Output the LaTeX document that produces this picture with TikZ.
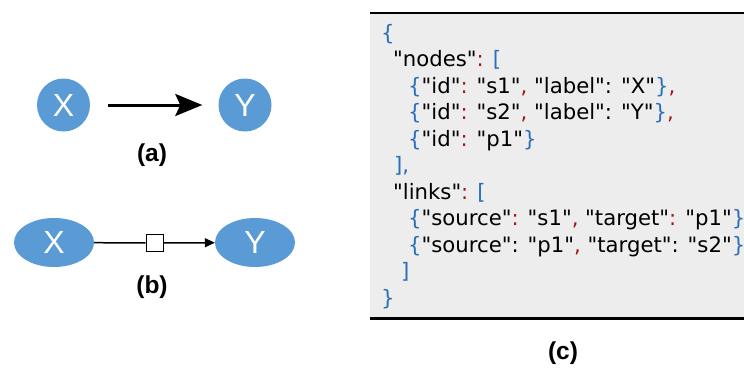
\documentclass[tikz,border=0pt]{standalone}
\usepackage{fontspec}
\setmainfont{Liberation Sans}
\newfontfamily\jsonfont{DejaVu Sans}
\usetikzlibrary{arrows.meta,shapes.geometric}
\definecolor{nodeblue}{HTML}{5B9BD5}
\definecolor{jb}{HTML}{2A6FB8}
\definecolor{jr}{HTML}{A31515}
\definecolor{boxgray}{HTML}{EDEDED}
\begin{document}
\begin{tikzpicture}[x=1pt,y=-1pt,
  circ/.style={circle, fill=nodeblue, minimum size=53pt, inner sep=0pt, text=white, font=\fontsize{32}{32}\selectfont},
  ell/.style={ellipse, fill=nodeblue, minimum width=80pt, minimum height=49pt, inner sep=0pt, text=white, font=\fontsize{32}{32}\selectfont},
  capt/.style={font=\bfseries\fontsize{24.5}{24.5}\selectfont, inner sep=0pt},
  json/.style={anchor=base west, inner sep=0pt, font=\jsonfont\fontsize{21.2}{26.5}\selectfont},
  factor/.style={draw, fill=white, minimum size=17pt, inner sep=0pt, line width=1pt}]
\clip (0,0) rectangle (744,367);
\fill[white] (0,0) rectangle (744,367);
% (a)
\node[circ] (ax) at (63.5,105) {X};
\node[circ] (ay) at (245,105) {Y};
\draw[line width=3pt, shorten <=18pt, shorten >=16pt, -{Stealth[length=27pt,width=22pt,inset=5pt]}] (ax) -- (ay);
\node[capt] (la) at (152,155) {(a)};
% (b)
\node[ell] (bx) at (54,242.5) {X};
\node[ell] (by) at (255,242.5) {Y};
\node[factor] (sq) at (154.5,243) {};
\draw[line width=1.5pt] (bx) -- (sq);
\draw[line width=1.5pt, -{Triangle[length=10pt,width=9pt]}] (sq) -- (by);
\node[capt] (lb) at (152,287) {(b)};
% (c)
\fill[boxgray] (370,13) rectangle (750,318.5);
\draw[line width=2pt] (370,13) -- (750,13);
\draw[line width=3pt] (370,318.5) -- (750,318.5);
\node[json] (j0) at (381,40.2) {\textcolor{jb}{\{}};
\node[json] (j1) at (393,66.7) {"nodes"\textcolor{jr}{:} \textcolor{jb}{[}};
\node[json] (j2) at (408,93.2) {\textcolor{jb}{\{}"id"\textcolor{jr}{:} "s1"\textcolor{jr}{,} "label": "X"\textcolor{jb}{\}}\textcolor{jr}{,}};
\node[json] (j3) at (408,119.7) {\textcolor{jb}{\{}"id"\textcolor{jr}{:} "s2"\textcolor{jr}{,} "label": "Y"\textcolor{jb}{\}}\textcolor{jr}{,}};
\node[json] (j4) at (408,146.2) {\textcolor{jb}{\{}"id"\textcolor{jr}{:} "p1"\textcolor{jb}{\}}};
\node[json] (j5) at (394,172.7) {\textcolor{jb}{],}};
\node[json] (j6) at (393,199.2) {"links"\textcolor{jr}{:} \textcolor{jb}{[}};
\node[json] (j7) at (408,225.7) {\textcolor{jb}{\{}"source"\textcolor{jr}{:} "s1"\textcolor{jr}{,} "target"\textcolor{jr}{:} "p1"\textcolor{jb}{\}}\textcolor{jr}{,}};
\node[json] (j8) at (408,252.2) {\textcolor{jb}{\{}"source": "p1"\textcolor{jr}{,} "target": "s2"\textcolor{jb}{\}}};
\node[json] (j9) at (401,278.7) {\textcolor{jb}{]}};
\node[json] (j10) at (381,305.2) {\textcolor{jb}{\}}};
\node[capt] (lc) at (563,353) {(c)};
\end{tikzpicture}
\end{document}
